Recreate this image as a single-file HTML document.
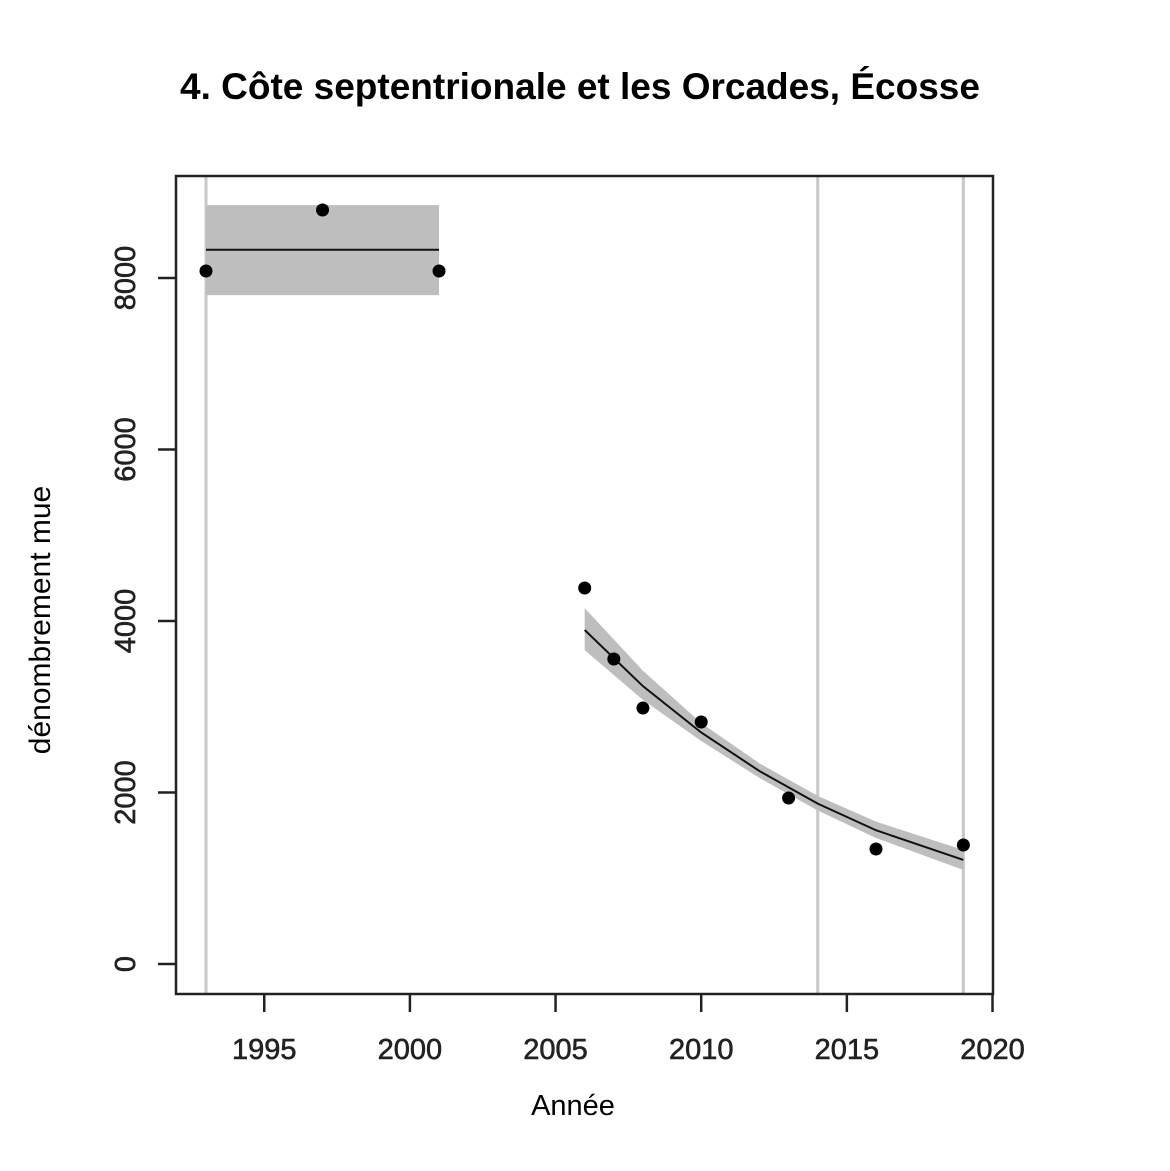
<!DOCTYPE html>
<html><head><meta charset="utf-8"><style>
body{margin:0;background:#fff;}
svg{display:block;font-family:"Liberation Sans",Arial,sans-serif;}
</style></head><body>
<svg id="chart" width="1170" height="1171">
<text x="580" y="99" text-anchor="middle" font-size="37" font-weight="bold">4. Côte septentrionale et les Orcades, Écosse</text>
<text x="573" y="1115" text-anchor="middle" font-size="29">Année</text>
<text transform="translate(50,620) rotate(-90)" text-anchor="middle" font-size="30">dénombrement mue</text>
<g id="plot"></g>
</svg>
<script>
const years=[1993,1997,2001,2006,2007,2008,2010,2013,2016,2019];
const counts=[8082,8793,8082,4385,3557,2985,2822,1936,1341,1388];
const xTicks=[1995,2000,2005,2010,2015,2020];
const yTicks=[0,2000,4000,6000,8000];
const refLines=[1993,2014,2019];
const meanPeriod=[1993,2001];
const meanValue=[8330];
const meanBand=[7800,8850];
const fitYears=[2006,2008,2010,2012,2014,2016,2019];
const fitValues=[3895,3240,2700,2250,1870,1560,1213];
const fitLower=[3660,3080,2600,2170,1790,1470,1096];
const fitUpper=[4150,3420,2810,2340,1960,1660,1330];

const sx=y=>206+(y-1993)*29.13;
const sy=v=>964-v*0.08575;
const NS='http://www.w3.org/2000/svg';
const g=document.getElementById('plot');
function mk(t,a){const e=document.createElementNS(NS,t);for(const k in a)e.setAttribute(k,a[k]);g.appendChild(e);return e;}

refLines.forEach(y=>{
 const e=mk('line',{x1:sx(y),x2:sx(y),y1:176,y2:994,stroke:'#c8c8c8','stroke-width':3});
 
 
});
let r=mk('rect',{x:sx(meanPeriod[0]),y:sy(meanBand[1]),width:sx(meanPeriod[1])-sx(meanPeriod[0]),height:sy(meanBand[0])-sy(meanBand[1]),fill:'#bebebe'});


let ml=mk('line',{x1:sx(meanPeriod[0]),x2:sx(meanPeriod[1]),y1:sy(meanValue[0]),y2:sy(meanValue[0]),stroke:'#111','stroke-width':2});



let up=fitYears.map((y,i)=>sx(y)+','+sy(fitUpper[i]));
let lo=fitYears.map((y,i)=>sx(y)+','+sy(fitLower[i])).reverse();
let band=mk('polygon',{points:up.concat(lo).join(' '),fill:'#bebebe'});


let fl=mk('polyline',{points:fitYears.map((y,i)=>sx(y)+','+sy(fitValues[i])).join(' '),fill:'none',stroke:'#111','stroke-width':2});



years.forEach((y,i)=>{
 const c=mk('circle',{cx:sx(y),cy:sy(counts[i]),r:6.5,fill:'#000'});
 
 
});

let box=mk('rect',{x:176,y:176,width:817,height:818,fill:'none',stroke:'#222','stroke-width':2.5});



xTicks.forEach(t=>{
 const l=mk('line',{x1:sx(t),x2:sx(t),y1:994,y2:1012,stroke:'#222','stroke-width':2.5});
 
 
 const tx=mk('text',{x:sx(t),y:1059,'text-anchor':'middle','font-size':29,fill:'#222',stroke:'#222','stroke-width':0.6});
 tx.textContent=t;
 
 
});
yTicks.forEach(t=>{
 const l=mk('line',{x1:158,x2:176,y1:sy(t),y2:sy(t),stroke:'#222','stroke-width':2.5});
 
 
 const tx=mk('text',{transform:`translate(135,${sy(t)}) rotate(-90)`,'text-anchor':'middle','font-size':29,fill:'#222',stroke:'#222','stroke-width':0.6});
 tx.textContent=t;
 
 
});
</script>
</body></html>
